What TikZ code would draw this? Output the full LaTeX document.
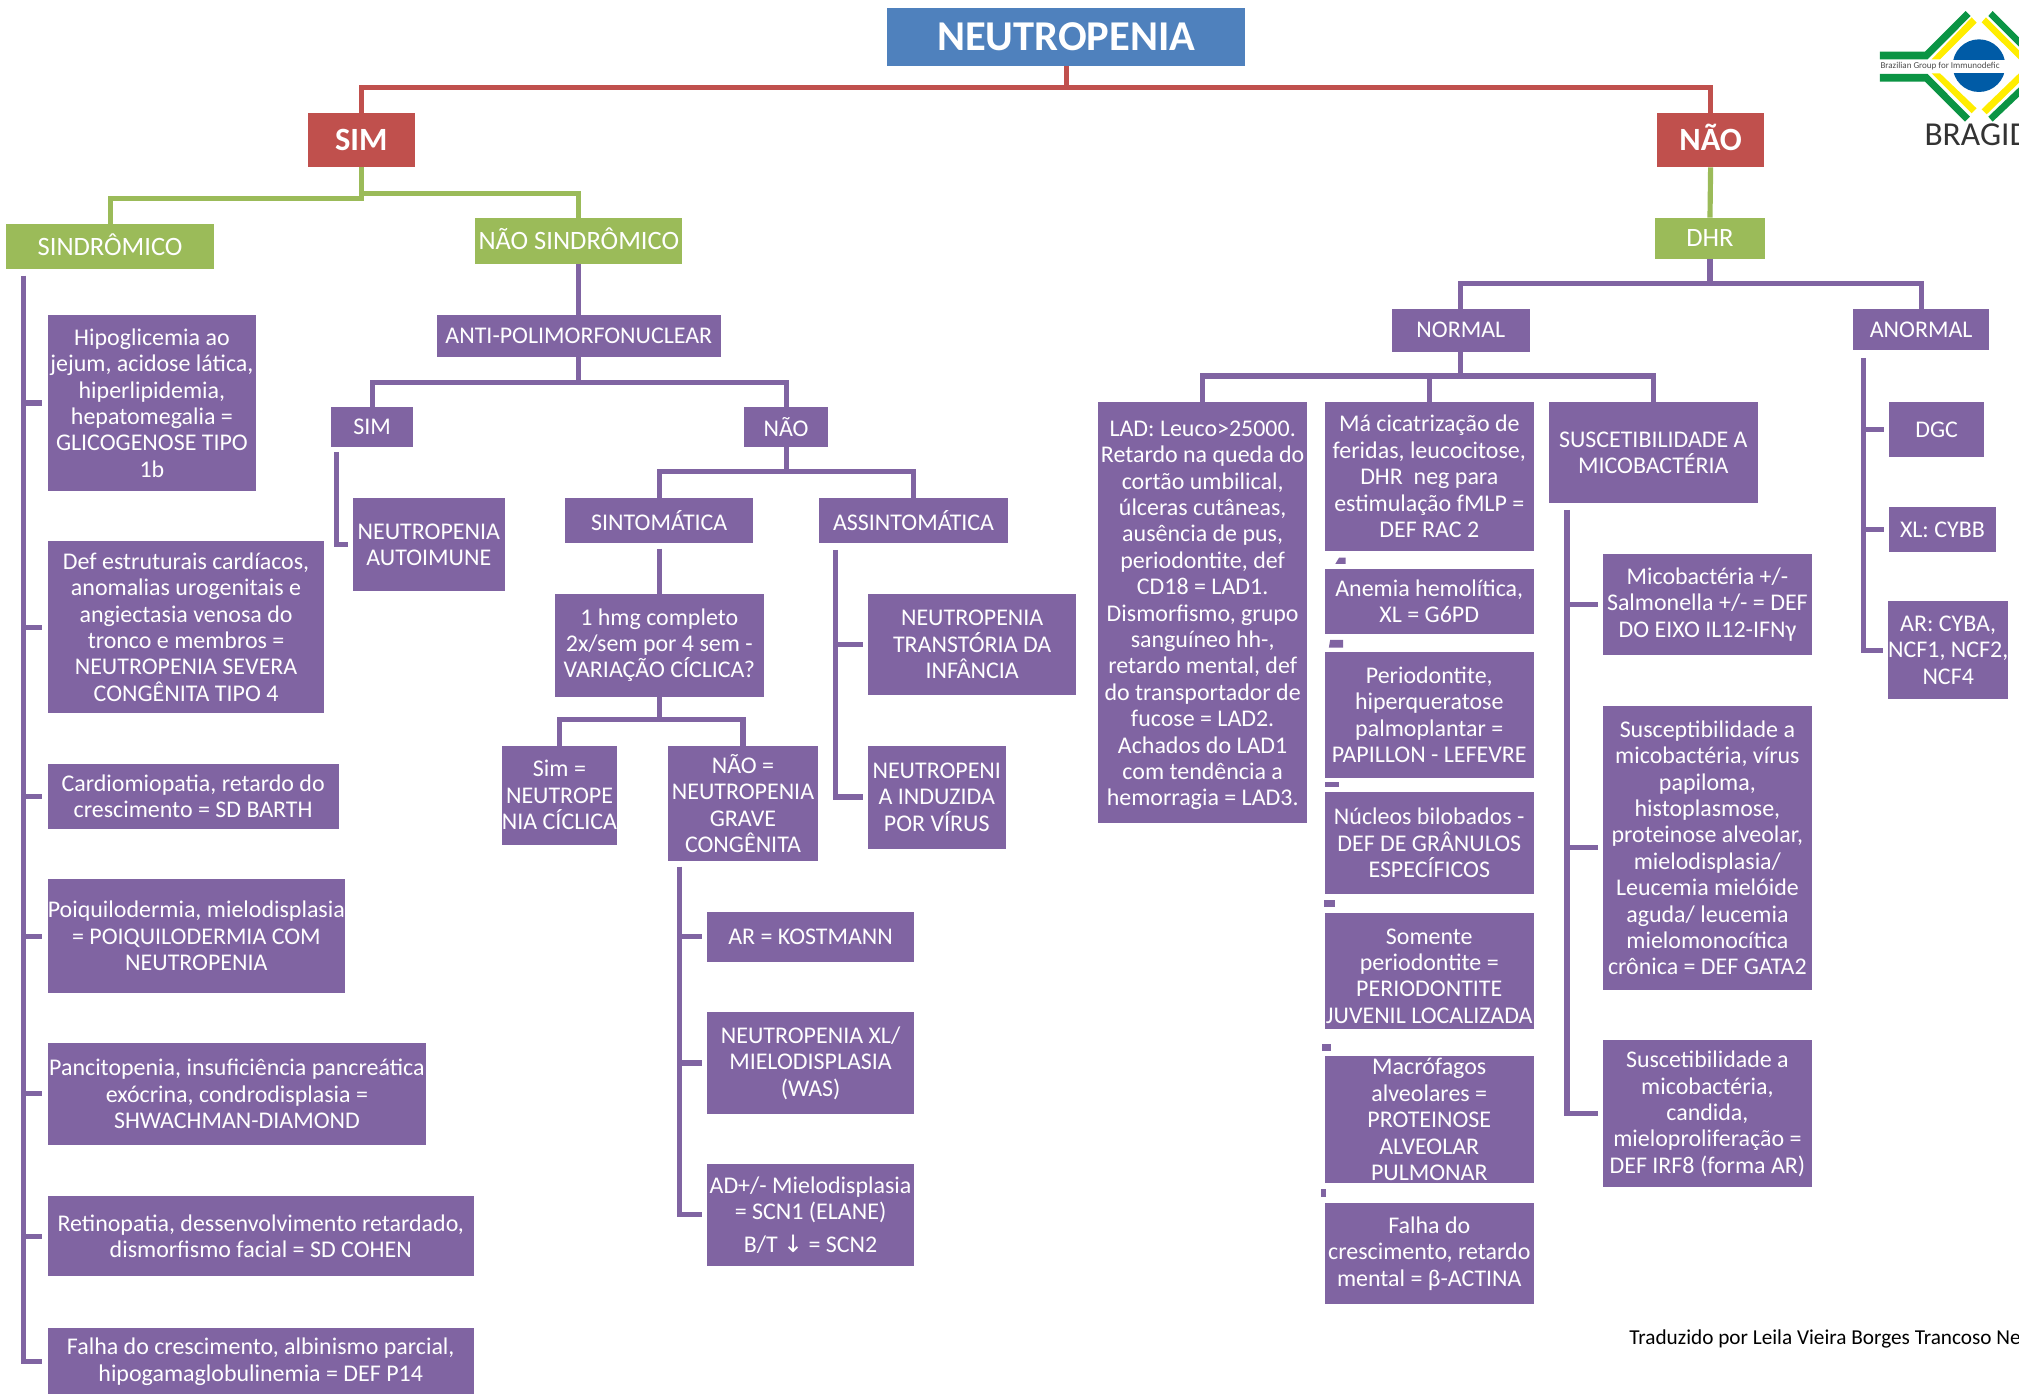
\documentclass[tikz,border=0pt]{standalone}
\usepackage{fontspec}
\setmainfont{Carlito}
\newfontfamily\arrowfont{DejaVu Sans}
\definecolor{pbox}{HTML}{8064A2}
\definecolor{rbox}{HTML}{C0504D}
\definecolor{gbox}{HTML}{9BBB59}
\definecolor{bbox}{HTML}{4F81BD}
\definecolor{lgreen}{HTML}{0B9444}
\definecolor{lyellow}{HTML}{FFED00}
\definecolor{lblue}{HTML}{005BA6}
\tikzset{
  boxbase/.style={inner sep=0pt,outer sep=0pt,align=center,text=white,font=\fontsize{9.3}{10.25}\selectfont},
  pb/.style={boxbase,fill=pbox},
  rb/.style={boxbase,fill=rbox,font=\fontsize{12.6}{14}\selectfont\bfseries,text height=8.1pt,text depth=0pt},
  gb/.style={boxbase,fill=gbox,font=\fontsize{10.3}{12}\selectfont,text height=6.6pt,text depth=0pt},
  tb/.style={boxbase,fill=bbox,font=\fontsize{16.5}{18}\selectfont\bfseries},
  pl/.style={draw=pbox,line width=2pt},
  rl/.style={draw=rbox,line width=2pt},
  gl/.style={draw=gbox,line width=2pt},
  branch/.style={pl,shorten >=2pt},
  stub/.style={fill=pbox,draw=none},
}
\newcommand\bx[7][pb]{%
  \pgfmathsetmacro\bxw{(#5-#3)*0.5}%
  \pgfmathsetmacro\bxh{(#6-#4)*0.5}%
  \node[#1,minimum width=\bxw pt,minimum height=\bxh pt] (#2) at ({(#3+#5)/2},{(#4+#6)/2}) {#7};%
}
\begin{document}
\begin{tikzpicture}[x=0.5pt,y=-0.5pt]
\useasboundingbox (0,0) rectangle (1568,1082.6);
% top
\bx[tb]{root}{689}{6}{967}{51}{NEUTROPENIA}
\bx[rb]{sim}{239}{88}{322}{130}{SIM}
\bx[rb]{nao}{1287}{88}{1370}{130}{NÃO}
\draw[rl] (root.south) -- ++(0,17) -| (sim.north);
\draw[rl] (root.south) -- ++(0,17) -| (nao.north);
\bx[gb]{sind}{5}{174}{166}{209}{SINDRÔMICO}
\bx[gb]{nsind}{369}{169}{530}{205}{NÃO SINDRÔMICO}
\bx[gb]{dhr}{1285}{169}{1371}{201}{DHR}
\draw[gl] (sim.south) -- ++(0,24) -| (sind.north);
\draw[gl] (sim.south) -- ++(0,20) -| (nsind.north);
\draw[gl] (nao.south) -- (dhr.north);
% left column
\bx{s1}{37}{245}{199}{381}{Hipoglicemia ao\\jejum, acidose lática,\\hiperlipidemia,\\hepatomegalia =\\GLICOGENOSE TIPO\\1b}
\bx{s2}{37}{420}{252}{554}{Def estruturais cardíacos,\\anomalias urogenitais e\\angiectasia venosa do\\tronco e membros =\\NEUTROPENIA SEVERA\\CONGÊNITA TIPO 4}
\bx{s3}{37}{593}{263}{644}{Cardiomiopatia, retardo do\\crescimento = SD BARTH}
\bx{s4}{37}{683}{268}{771}{Poiquilodermia, mielodisplasia\\= POIQUILODERMIA COM\\NEUTROPENIA}
\bx{s5}{37}{810}{331}{889}{Pancitopenia, insuficiência pancreática\\exócrina, condrodisplasia =\\SHWACHMAN-DIAMOND}
\bx{s6}{37}{929}{368}{991}{Retinopatia, dessenvolvimento retardado,\\dismorfismo facial = SD COHEN}
\bx{s7}{37}{1031}{368}{1084}{Falha do crescimento, albinismo parcial,\\hipogamaglobulinemia = DEF P14}
\coordinate (sbus) at (18.5,214);
\draw[branch] (sbus) |- (s7.west);
\foreach \n in {s1,s2,s3,s4,s5,s6}{\draw[branch] (sbus |- \n.west) -- (\n.west);}
% non syndromic
\bx{anti}{339}{245}{560}{277}{ANTI-POLIMORFONUCLEAR}
\draw[pl] (nsind.south) -- (anti.north);
\bx{asim}{257}{316}{321}{347}{SIM}
\bx{anao}{578}{316}{643}{347}{NÃO}
\draw[pl] (anti.south) -- ++(0,20) -| (asim.north);
\draw[pl] (anti.south) -- ++(0,20) -| (anao.north);
\bx{auto}{274}{387}{392}{459}{NEUTROPENIA\\AUTOIMUNE}
\coordinate (simbus) at (261,351);
\draw[branch] (simbus) |- (auto.west);
\bx{sint}{439}{387}{585}{422}{SINTOMÁTICA}
\bx{assi}{636}{387}{783}{422}{ASSINTOMÁTICA}
\draw[pl] (anao.south) -- ++(0,19) -| (sint.north);
\draw[pl] (anao.south) -- ++(0,19) -| (assi.north);
\bx{hmg}{431}{461}{593}{541}{1 hmg completo\\2x/sem por 4 sem -\\VARIAÇÃO CÍCLICA?}
\coordinate (sintb) at (512,426);
\draw[pl] (sintb) -- (hmg.north);
\bx{cicl}{390}{579}{479}{656}{Sim =\\NEUTROPE\\NIA CÍCLICA}
\bx{grave}{519}{579}{635}{669}{NÃO =\\NEUTROPENIA\\GRAVE\\CONGÊNITA}
\draw[pl] (hmg.south) -- ++(0,18) -| (cicl.north);
\draw[pl] (hmg.south) -- ++(0,18) -| (grave.north);
\bx{ar}{549}{708}{710}{747}{AR = KOSTMANN}
\bx{xl}{549}{786}{710}{865}{NEUTROPENIA XL/\\MIELODISPLASIA\\(WAS)}
\bx{ad}{549}{904}{710}{983}{AD+/- Mielodisplasia\\= SCN1 (ELANE)\\[2.5pt]B/T {\arrowfont↓} = SCN2}
\coordinate (gbus) at (528,673);
\draw[branch] (gbus) |- (ad.west);
\foreach \n in {ar,xl}{\draw[branch] (gbus |- \n.west) -- (\n.west);}
\bx{trans}{674}{461}{836}{540}{NEUTROPENIA\\TRANSTÓRIA DA\\INFÂNCIA}
\bx{viral}{674}{579}{781}{659}{NEUTROPENI\\A INDUZIDA\\POR VÍRUS}
\coordinate (abus) at (649,427);
\draw[branch] (abus) |- (viral.west);
\draw[branch] (abus |- trans.west) -- (trans.west);
% right side
\bx{norm}{1081}{240}{1188}{273}{NORMAL}
\bx{anor}{1439}{240}{1545}{272}{ANORMAL}
\draw[pl] (dhr.south) -- ++(0,19) -| (norm.north);
\draw[pl] (dhr.south) -- ++(0,19) -| (anor.north);
\bx{lad}{853}{312}{1015}{639}{\rule{0pt}{8.5pt}LAD: Leuco>25000.\\Retardo na queda do\\cortão umbilical,\\úlceras cutâneas,\\ausência de pus,\\periodontite, def\\CD18 = LAD1.\\Dismorfismo, grupo\\sanguíneo hh-,\\retardo mental, def\\do transportador de\\fucose = LAD2.\\Achados do LAD1\\com tendência a\\hemorragia = LAD3.}
\bx{rac}{1029}{312}{1191}{428}{Má cicatrização de\\feridas, leucocitose,\\DHR~ neg para\\estimulação fMLP =\\DEF RAC 2}
\bx{myco}{1203}{312}{1365}{391}{SUSCETIBILIDADE A\\MICOBACTÉRIA}
\draw[pl] (norm.south) -- ++(0,19) -| (lad.north);
\draw[pl] (norm.south) -- ++(0,19) -| (rac.north);
\draw[pl] (norm.south) -- ++(0,19) -| (myco.north);
\bx{g6}{1029}{442}{1191}{492}{Anemia hemolítica,\\XL = G6PD}
\bx{pap}{1029}{506}{1191}{604}{Periodontite,\\hiperqueratose\\palmoplantar =\\PAPILLON - LEFEVRE}
\bx{gran}{1029}{615}{1191}{694}{Núcleos bilobados -\\DEF DE GRÂNULOS\\ESPECÍFICOS}
\bx{juv}{1029}{709}{1191}{799}{\rule{0pt}{10pt}Somente\\periodontite =\\PERIODONTITE\\JUVENIL LOCALIZADA}
\bx{macr}{1029}{820}{1191}{919}{Macrófagos\\alveolares =\\PROTEINOSE\\ALVEOLAR\\PULMONAR}
\bx{bact}{1029}{934}{1191}{1013}{Falha do\\crescimento, retardo\\mental = β-ACTINA}
\fill[stub] (1040,433) -- (1045,433) -- (1045,438) -- (1037,438) -- cycle;
\fill[stub] (1033,497) -- (1043,497) -- (1043,503) -- (1032,503) -- cycle;
\fill[stub] (1029,607) -- (1040,607) -- (1040,611.5) -- (1029,611.5) -- cycle;
\fill[stub] (1028,699) -- (1037,699) -- (1037,704.5) -- (1028,704.5) -- cycle;
\fill[stub] (1027,811) -- (1034,811) -- (1034,816.5) -- (1027,816.5) -- cycle;
\fill[stub] (1026,923) -- (1030,923) -- (1030,929.5) -- (1026,929.5) -- cycle;
\bx{m1}{1245}{430}{1407}{509}{Micobactéria +/-\\Salmonella +/- = DEF\\DO EIXO IL12-IFNγ}
\bx{m2}{1245}{548}{1407}{769}{Susceptibilidade a\\micobactéria, vírus\\papiloma,\\histoplasmose,\\proteinose alveolar,\\mielodisplasia/\\Leucemia mielóide\\aguda/ leucemia\\mielomonocítica\\crônica = DEF GATA2}
\bx{m3}{1245}{808}{1407}{922}{Suscetibilidade a\\micobactéria,\\candida,\\mieloproliferação =\\DEF IRF8 (forma AR)}
\coordinate (mbus) at (1217,396);
\draw[branch] (mbus) |- (m3.west);
\foreach \n in {m1,m2}{\draw[branch] (mbus |- \n.west) -- (\n.west);}
\bx{dgc}{1467}{312}{1541}{355}{DGC}
\bx{cybb}{1467}{394}{1550}{429}{XL: CYBB}
\bx{cyba}{1467}{467}{1559}{543}{AR: CYBA,\\NCF1, NCF2,\\NCF4}
\coordinate (nbus) at (1447,278);
\draw[branch] (nbus) |- (cyba.west);
\foreach \n in {dgc,cybb}{\draw[branch] (nbus |- \n.west) -- (\n.west);}
% footer
\node[anchor=base west,inner sep=0pt,font=\fontsize{8.25}{10}\selectfont] (trad) at (1265,1044) {Traduzido por Leila Vieira Borges Trancoso Ne};
% logo, in crop coordinates
\begin{scope}[shift={(1397.9,0)},x=0.12943pt,y=-0.12943pt]
\fill[lblue] (537,197) circle (79);
\fill[white] (200,179) rectangle (700,220);
\fill[lgreen] (240,155) -- (375,155) -- (497,33) -- (512,48) -- (383,178) -- (240,178) -- cycle;
\fill[lgreen] (240,222) -- (383,222) -- (510,350) -- (495,365) -- (375,245) -- (240,245) -- cycle;
\fill[lgreen] (565,48) -- (578,33) -- (657,112) -- (657,140) -- cycle;
\fill[lgreen] (565,350) -- (657,262) -- (657,290) -- (578,365) -- cycle;
\fill[lyellow] (515,52) -- (530,68) -- (420,178) -- (395,178) -- cycle;
\fill[lyellow] (395,220) -- (420,220) -- (530,325) -- (515,340) -- cycle;
\fill[lyellow] (545,67) -- (558,52) -- (657,151) -- (657,178) -- cycle;
\fill[lyellow] (545,328) -- (657,220) -- (657,248) -- (560,343) -- cycle;
\node[anchor=west,inner sep=0pt,text=black!70,font=\fontsize{3.5}{4}\selectfont] (lgtxt) at (240,198) {Brazilian Group for Immunodefic};
\node[anchor=base west,inner sep=0pt,text=black!80,font=\fontsize{13}{14}\selectfont] (lgname) at (372,437) {BRAGID};
\end{scope}
\end{tikzpicture}
\end{document}
